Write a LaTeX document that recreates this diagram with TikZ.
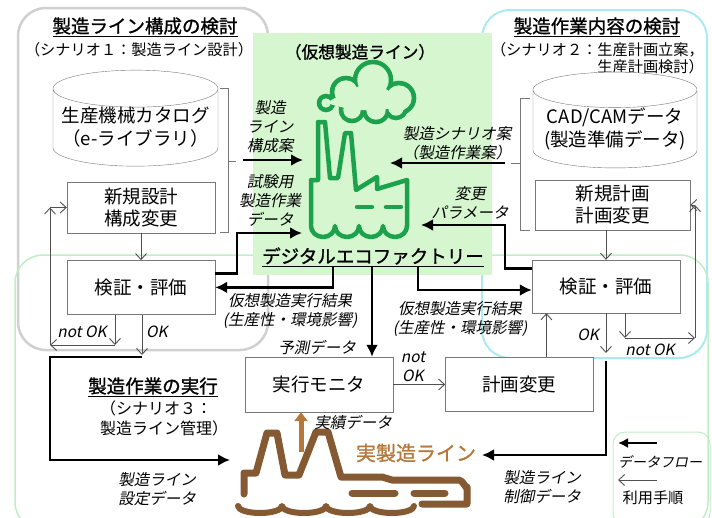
\documentclass[tikz,border=0pt]{standalone}
\usepackage{fontspec}
\setmainfont{Noto Sans CJK JP}[BoldFont={Noto Sans CJK JP},BoldFeatures={FakeBold=1.2}]
\newfontfamily\slantfont{Noto Sans CJK JP}[FakeSlant=0.2]
\usetikzlibrary{positioning,shapes.geometric,arrows.meta}

\definecolor{vlinecolor}{RGB}{214,246,208}
\definecolor{ecocolor}{RGB}{28,162,76}
\definecolor{realcolor}{RGB}{133,90,50}
\definecolor{realtextcolor}{RGB}{180,120,58}
\definecolor{sc1color}{RGB}{208,208,208}
\definecolor{sc2color}{RGB}{172,234,242}
\definecolor{sc3color}{RGB}{192,238,196}
\definecolor{boxcolor}{RGB}{120,120,120}
\definecolor{usecolor}{RGB}{80,80,80}

\begin{document}
\begin{tikzpicture}[x=1pt, y=-1pt,
	box/.style = {draw=boxcolor, fill=white, align=center, inner sep=0pt, minimum width=148pt, minimum height=54pt, font=\fontsize{18.5}{22}\selectfont},
	db/.style = {cylinder, shape border rotate=90, aspect=0.25, draw=boxcolor, fill=white, align=center, inner sep=0pt, font=\fontsize{18.5}{23}\selectfont},
	note/.style = {align=center, inner sep=0pt, font=\slantfont\fontsize{15.5}{19}\selectfont},
	ttl/.style = {inner sep=0pt, font=\bfseries\fontsize{18.5}{22}\selectfont},
	sub/.style = {inner sep=0pt, font=\fontsize{15.2}{17}\selectfont},
	flow/.style = {line width=2.6pt, -{Latex[length=12pt,width=12pt]}},
	use/.style = {draw=usecolor, line width=0.9pt, -{Straight Barb[length=6pt,width=11pt]}},
	eco/.style = {draw=ecocolor, line width=4.5pt, line join=round, line cap=round},
	real/.style = {draw=realcolor, line width=7pt, line join=round, line cap=round}]
	\useasboundingbox (0,0) rectangle (712,517);

	% scenario frames and the virtual line area
	\draw[sc1color, line width=2.5pt, rounded corners=28pt] (18,8) rectangle (268,350);
	\draw[sc2color, line width=2pt, rounded corners=28pt] (482,10) rectangle (707,358);
	\draw[sc3color, line width=1.5pt, rounded corners=28pt] (15,255) rectangle (708,530);
	\draw[sc3color, line width=1pt, rounded corners=12pt] (613,432) rectangle (710,525);
	\fill[vlinecolor] (253,33) rectangle (492,275);

	% digital eco factory icon
	\foreach \cx/\cy/\r in {326/103/7, 346/92/14, 373/80/18, 399/98/15, 352/110/11, 376/110/12, 396/108/10}
		\fill[ecocolor] (\cx,\cy) circle[radius=\r+2.3];
	\foreach \cx/\cy/\r in {326/103/7, 346/92/14, 373/80/18, 399/98/15, 352/110/11, 376/110/12, 396/108/10}
		\fill[vlinecolor] (\cx,\cy) circle[radius=\r-2.3];
	\fill[vlinecolor] (326,103) -- (346,92) -- (373,80) -- (399,98) -- (396,108) -- (376,110) -- (352,110) -- cycle;
	\draw[eco] (311,224) -- (311,180) -- (318,180) -- (318,122) -- (325,122) -- (330,178) -- (338,178) -- (345,133) -- (351,133) -- (356,190) -- (377,177) -- (377,189) -- (407,180) -- (407,226);
	\draw[eco] (311,226) \foreach \i in {1,...,4} {arc[start angle=180, end angle=0, x radius=12, y radius=11]};
	\draw[eco] (357,207) -- (372,207) (386,207) -- (401,207);

	% real factory icon
	\draw[real] (244,494) -- (244,473) -- (256,473) -- (267,433) -- (277,433) -- (285,475) -- (299,475) -- (316,432) -- (328,432) -- (341,477) -- (382,477) -- (392,480) -- (459,480) to[out=0, in=-90] (467,487) -- (467,504) -- (422,504);
	\draw[real] (352,493) -- (395,493) (414,493) -- (445,493);
	\draw[real, line width=6pt] (238,506) \foreach \i in {1,...,4} {arc[start angle=180, end angle=0, x radius=22, y radius=7]};

	% titles
	\node[ttl] (sc1) at (145,27) {\underline{製造ライン構成の検討}};
	\node[sub] (sc1sub) at (139,50) {（シナリオ１：製造ライン設計）};
	\node[ttl] (sc2) at (597,27) {\underline{製造作業内容の検討}};
	\node[sub, align=right, anchor=north east] (sc2sub) at (704,42) {（シナリオ２：生産計画立案，\\生産計画検討）};
	\node[ttl, font=\bfseries\fontsize{16.7}{20}\selectfont] (vline) at (360,52) {（仮想製造ライン）};
	\node[ttl] (eco) at (373,257) {\underline{デジタルエコファクトリー}};
	\node[ttl] (sc3) at (153,387) {\underline{製造作業の実行}};
	\node[sub, font=\fontsize{16}{20}\selectfont, align=left, anchor=west] (sc3sub) at (100,418) {（シナリオ３：\\製造ライン管理）};
	\node[ttl, font=\bfseries\fontsize{20}{22}\selectfont, text=realtextcolor] (realline) at (416,453) {実製造ライン};

	% databases and boxes
	\node[db, minimum width=165pt, minimum height=95pt] (cat) at (135.5,127.5) {生産機械カタログ\\（e-ライブラリ）};
	\node[db, minimum width=164pt, minimum height=82pt] (cam) at (615,129) {CAD/CAMデータ\\(製造準備データ)};
	\node[box, minimum height=51pt] (new1) at (141,207.5) {新規設計\\構成変更};
	\node[box] (eval1) [below=27pt of new1] {検証・評価};
	\node[box, minimum width=155pt, minimum height=50pt] (new2) at (612.5,205) {新規計画\\計画変更};
	\node[box, minimum height=53pt] (eval2) at (606,286.5) {検証・評価};
	\node[box, minimum height=55pt] (monitor) at (319,384.5) {実行モニタ};
	\node[box] (change) [right=52pt of monitor] {計画変更};

	% brackets around the databases
	\draw[boxcolor, line width=0.8pt] (220,88) -- (228,88) -- (228,232) -- (220,232) (228,161) -- (236,161);
	\draw[boxcolor, line width=0.8pt] (530,98) -- (520,98) -- (520,230) -- (530,230) (520,163) -- (511,163);

	\coordinate (brk1) at (243,160);
	\coordinate (brk2) at (505,163);
	\coordinate (vin1) at (303,160);
	\coordinate (vin2) at (302,233);
	\coordinate (vin3) at (390,163);
	\coordinate (vin4) at (421,225);
	\coordinate (ok1) at (142,355);
	\coordinate (ok2) at (606,353);
	\coordinate (ng1) at (115,345);
	\coordinate (fb1) at (50,345);
	\coordinate (ng2) at (625,338);
	\coordinate (fb2) at (695,338);
	\coordinate (rin) at (230,460);
	\coordinate (rout) at (482,455);

	% data flow
	\draw[flow] (brk1) -- (vin1);
	\draw[flow] (brk2) -- (vin3);
	\draw[flow] ([yshift=14pt]eval1.east) -| (237,233) -- (vin2);
	\draw[flow] ([yshift=18pt]eval2.west) -| (505,225) -- (vin4);
	\draw[flow] ([xshift=-40pt]eco.south) |- (eval1.east);
	\draw[flow] ([xshift=-1pt]eco.south) -- ([xshift=-1pt]eco.south |- monitor.north);
	\draw[flow] ([xshift=45pt]eco.south) |- ([yshift=-3.5pt]eval2.west);
	\draw[flow] ([yshift=-2pt]ok1) -| (50,460) -- (rin);
	\draw[flow] ([yshift=-8pt]ok2) |- (rout);
	\draw[realtextcolor, line width=5pt, -{Triangle[length=9pt,width=13pt]}] (301,452) -- ([xshift=-18pt]monitor.south);

	% usage procedure
	\draw[use] (new1.south) -- (eval1.north);
	\draw[use] (eval2.north |- new2.south) -- (eval2.north);
	\draw[use] (eval1.south -| ok1) -- (ok1);
	\draw[use] (eval2.south -| ok2) -- (ok2);
	\draw[use] (eval1.south -| ng1) -- (ng1);
	\draw[use] (ng1) -- (fb1);
	\draw[use] (fb1) -- (fb1 |- new1.west);
	\draw[use] (fb1 |- new1.west) -- (new1.west);
	\draw[use] (eval2.south -| ng2) -- (ng2);
	\draw[use] (ng2) -- (fb2);
	\draw[use] (fb2) -- (fb2 |- new2.east);
	\draw[use] (fb2 |- new2.east) -- (new2.east);
	\draw[use] (monitor.east) -- (change.west);
	\draw[use] ([xshift=27pt]change.north) -- ([xshift=27pt]change.north |- eval2.south);

	% flow labels
	\node[note] (n1) at (270,127) {製造\\ライン\\構成案};
	\node[note] (n2) at (270,200) {試験用\\製造作業\\データ};
	\node[note] (n3) at (457,143) {製造シナリオ案\\（製造作業案）};
	\node[note] (n4) at (470,203) {変更\\パラメータ};
	\node[note] (n5) at (290,311) {仮想製造実行結果\\(生産性・環境影響)};
	\node[note] (n6) at (460,319) {仮想製造実行結果\\(生産性・環境影響)};
	\node[note] (n7) at (317,348) {予測データ};
	\node[note] (n8) at (82,332) {not OK};
	\node[note] (n9) at (157,332) {OK};
	\node[note] (n10) at (413,367) {not\\OK};
	\node[note] (n11) at (588,335) {OK};
	\node[note] (n12) at (650,350) {not OK};
	\node[note] (n13) at (353,423) {実績データ};
	\node[note] (n14) at (157,489) {製造ライン\\設定データ};
	\node[note] (n15) at (542,487) {製造ライン\\制御データ};

	% legend
	\coordinate (lg1) at (657,443);
	\coordinate (lg2) at (657,480);
	\draw[flow, -{Latex[length=10pt,width=10pt]}] (lg1) -- ++(-39,0);
	\draw[use] (lg2) -- ++(-39,0);
	\node[note, font=\slantfont\fontsize{14}{16}\selectfont] (lgflow) at (660,462) {データフロー};
	\node[sub] (lguse) at (653,498) {利用手順};
\end{tikzpicture}
\end{document}
